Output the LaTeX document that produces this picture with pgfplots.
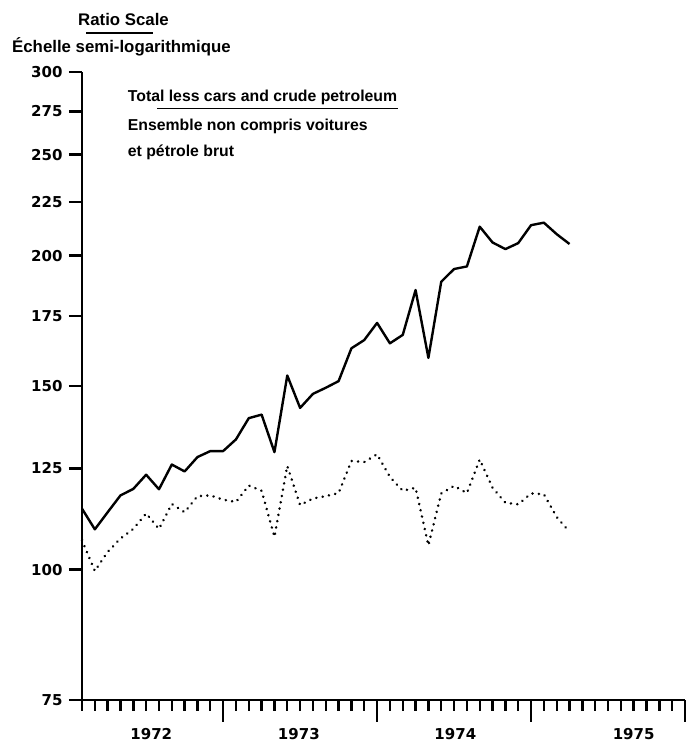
\documentclass[border=0pt]{standalone}
\usepackage{pgfplots}
\pgfplotsset{compat=1.18}
\usepackage{fontspec}
\setmainfont{Liberation Sans}
\newfontfamily\numfont{DejaVu Sans}
\newcommand{\numf}{\numfont\bfseries\fontsize{15bp}{18bp}\selectfont}
\newcommand{\hdrf}{\bfseries\fontsize{16.8bp}{20bp}\selectfont}
\newcommand{\ttlf}{\bfseries\fontsize{15.8bp}{19bp}\selectfont}

\pgfplotstableread{
m solid dotted
1 114.4 106.7
2 109.3 99.7
3 113.5 104.0
4 117.8 107.1
5 119.5 109.4
6 123.3 113.2
7 119.4 109.4
8 126.1 115.6
9 124.2 113.5
10 128.2 117.6
11 129.9 117.8
12 129.9 116.7
13 133.3 116.1
14 139.7 120.4
15 140.8 119.0
16 129.6 107.5
17 153.5 125.7
18 142.9 115.3
19 147.4 117.0
20 149.4 117.6
21 151.6 118.4
22 163.0 127.1
23 166.0 126.8
24 172.4 129.0
25 164.8 122.7
26 167.9 119.0
27 185.4 119.8
28 159.6 105.5
29 188.8 118.3
30 194.2 120.3
31 195.3 118.4
32 213.2 127.5
33 205.9 119.8
34 202.9 115.9
35 205.6 115.5
36 213.9 118.3
37 215.1 118.1
38 209.7 112.3
39 205.2 108.7
}\datatable

\begin{document}
\begin{tikzpicture}
\useasboundingbox (-82bp,-45bp) rectangle (612bp,700bp);
% month ticks and year boundary ticks
\begin{axis}[
  at={(0,0)}, anchor=south west,
  scale only axis, width=603bp, height=628bp,
  xmin=1, xmax=48, ymin=0, ymax=1,
  hide y axis,
  axis x line*=bottom,
  axis line style={-, line width=2.8bp},
  tick align=outside,
  xtick={12,24,36,48}, xticklabels={},
  minor xtick={1,...,48},
  major tick length=22bp, minor tick length=11bp,
  every tick/.style={black, line width=2.4bp},
]
\end{axis}
\begin{axis}[
  at={(0,0)}, anchor=south west,
  scale only axis, width=603bp, height=628bp,
  xmin=1, xmax=48, ymin=75, ymax=300,
  ymode=log,
  axis lines=left,
  axis line style={-, line width=2.8bp},
  tick align=outside,
  major tick length=13bp,
  every tick/.style={black, line width=2.4bp},
  ytick={75,100,125,150,175,200,225,250,275,300},
  yticklabels={75,100,125,150,175,200,225,250,275,300},
  xtick={6.4,17.9,30.1,44},
  xticklabels={1972,1973,1974,1975},
  xtick style={draw=none},
  ticklabel style={font=\numf},
  xticklabel style={yshift=-12bp},
  yticklabel style={xshift=-3bp},
  clip=false,
]
\addplot[black, line width=2.4bp, line join=round] table[x=m, y=solid] {\datatable};
\addplot[black, line width=2.7bp, line cap=round, dash pattern=on 0.1bp off 6.3bp] table[x=m, y=dotted] {\datatable};
\end{axis}
\node[anchor=base, inner sep=0, font=\hdrf] at (41.5bp,674bp) {Ratio Scale};
\draw[line width=1.5bp] (4bp,667bp) -- (71bp,667bp);
\node[anchor=base west, inner sep=0, font=\hdrf] at (-70bp,647bp) {Échelle semi-logarithmique};
\node[anchor=base west, inner sep=0, font=\ttlf] at (45.7bp,598.3bp) {Total less cars and crude petroleum};
\draw[line width=1.5bp] (75bp,591.7bp) -- (316bp,591.7bp);
\node[anchor=base west, inner sep=0, font=\ttlf] at (45.7bp,569bp) {Ensemble non compris voitures};
\node[anchor=base west, inner sep=0, font=\ttlf] at (45.7bp,543.3bp) {et pétrole brut};
\end{tikzpicture}
\end{document}
